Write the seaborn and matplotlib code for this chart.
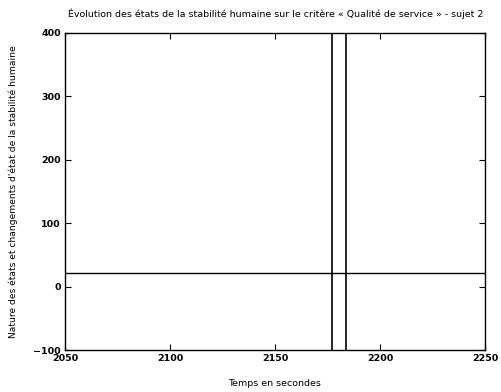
import matplotlib
matplotlib.use("Agg")
import matplotlib.pyplot as plt
import seaborn as sns
import pandas as pd

# Data
state_times = [2050, 2250]
state_values = [22, 22]
change_times = [2177, 2184]
x_ticks = [2050, 2100, 2150, 2200, 2250]
y_ticks = [-100, 0, 100, 200, 300, 400]

sns.set_style("ticks")
plt.rcParams['font.family'] = ['DejaVu Sans']
plt.rcParams['text.color'] = 'black'
plt.rcParams['axes.labelcolor'] = 'black'
plt.rcParams['xtick.color'] = 'black'
plt.rcParams['ytick.color'] = 'black'

fig = plt.figure(figsize=(5.02, 3.92), dpi=100)
ax = fig.add_axes([0.1295, 0.107, 0.8365, 0.809])

df = pd.DataFrame({"t": state_times, "v": state_values})
sns.lineplot(data=df, x="t", y="v", ax=ax, color="black", linewidth=1.0)
for t in change_times:
    ax.axvline(t, color="black", linewidth=1.2)

ax.set_xlim(2050, 2250)
ax.set_ylim(-100, 400)
ax.set_xticks(x_ticks)
ax.set_yticks(y_ticks)
ax.tick_params(direction="in", top=True, right=True, length=4, width=0.8,
               labelsize=6.8, pad=3)
for lab in ax.get_xticklabels() + ax.get_yticklabels():
    lab.set_fontweight("bold")
for s in ax.spines.values():
    s.set_linewidth(1.0)
    s.set_color("black")

ax.set_xlabel("Temps en secondes", fontsize=6.8, labelpad=11)
ax.set_ylabel("Nature des états et changements d'état de la stabilité humaine",
              fontsize=6.6, labelpad=11)
fig.suptitle("Évolution des états de la stabilité humaine sur le critère « Qualité de service » - sujet 2",
             fontsize=6.8, y=0.978, x=0.55)

fig.savefig("out.png", dpi=100)
